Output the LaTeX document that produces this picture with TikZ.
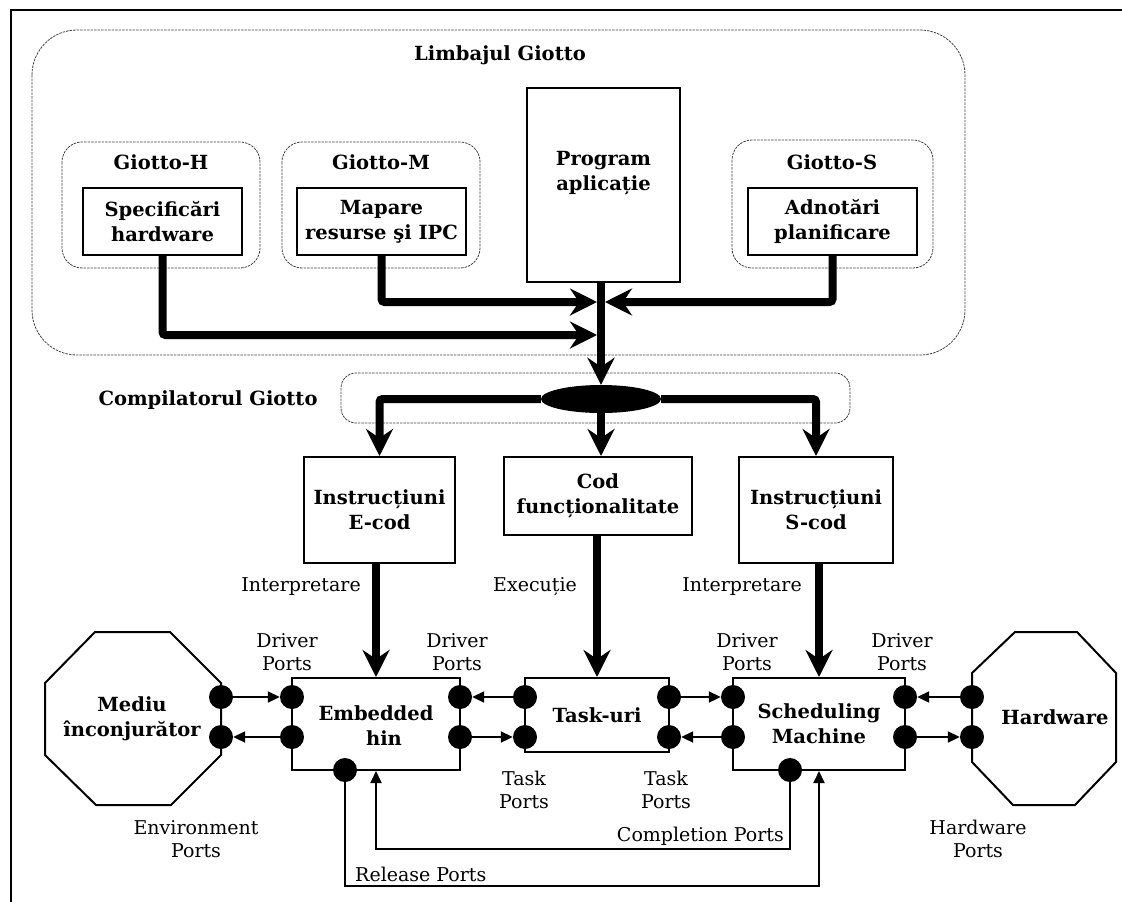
\documentclass[tikz,border=0pt]{standalone}
\usepackage{fontspec}
\setmainfont{DejaVu Serif}
\usetikzlibrary{arrows.meta,shapes.geometric,calc}

\begin{document}
\begin{tikzpicture}[x=1pt,y=-1pt,
  txt/.style={font=\fontsize{19}{23}\selectfont, align=center, inner sep=0pt},
  btxt/.style={font=\fontsize{19.5}{25}\selectfont\bfseries, align=center, inner sep=0pt},
  box/.style={draw, line width=2pt, inner sep=0pt,
              font=\fontsize{19.5}{25}\selectfont\bfseries, align=center},
  dashbox/.style={draw=black!75, line width=0.8pt, dash pattern=on 2.5pt off 1pt},
  port/.style={circle, fill=black, minimum size=24pt, inner sep=0pt},
  flow/.style={line width=8pt, rounded corners=3pt,
               -{Stealth[length=27pt,width=27pt,inset=9pt]}},
  link/.style={line width=2pt, -{Triangle[length=12pt,width=11pt]}},
  edge2/.style={line width=2pt},
]
\useasboundingbox (0,0) rectangle (1122,902);

% page frame (top and left rules)
\draw[line width=2pt] (11,902) -- (11,10) -- (1122,10);

% ---------------- language level ----------------
\draw[dashbox, rounded corners=45pt] (32,30) rectangle (965,355);
\node[btxt] (lang) at (500,55) {Limbajul Giotto};

\draw[dashbox, rounded corners=20pt] (62,142) rectangle (260,268);
\draw[dashbox, rounded corners=20pt] (282,142) rectangle (480,268);
\draw[dashbox, rounded corners=20pt] (732,140) rectangle (933,268);
\node[btxt] (gh) at (161,162) {Giotto-H};
\node[btxt] (gm) at (381,162) {Giotto-M};
\node[btxt] (gs) at (832,162) {Giotto-S};

\node[box, minimum width=159pt, minimum height=67pt] (spec) at (162.5,221.5) {Specificări\\hardware};
\node[box, minimum width=169pt, minimum height=67pt] (map) at (381.5,221.5) {Mapare\\resurse ş{}i IPC};
\node[box, minimum width=169pt, minimum height=67pt] (adn) at (832.5,221.5) {Adnotări\\planificare};
\node[box, minimum width=153pt, minimum height=194pt] (prog) at (603.5,185) {};
\node[btxt] (progtxt) at (603.5,173) {Program\\aplicație};

% ---------------- compiler ----------------
\draw[dashbox, rounded corners=15pt] (341,373) rectangle (850,423);
\node[btxt] (comp) at (208,400) {Compilatorul Giotto};
\node[ellipse, fill=black, minimum width=120pt, minimum height=28pt, inner sep=0pt] (oval) at (601,399) {};

\coordinate (jh) at (597,335);
\coordinate (jm) at (597,302);
\coordinate (js) at (605,302);

\draw[flow] (spec.south) |- (jh);
\draw[flow] (map.south) |- (jm);
\draw[flow] (adn.south) |- (js);
\draw[flow] (prog.south -| oval.north) -- (oval.north);

% ---------------- generated code ----------------
\node[box, minimum width=151pt, minimum height=106pt] (ecod) at (379.5,510) {Instrucțiuni\\E-cod};
\node[box, minimum width=188pt, minimum height=78pt] (cod) at (598,496) {Cod\\funcționalitate};
\node[box, minimum width=154pt, minimum height=106pt] (scod) at (816,510) {Instrucțiuni\\S-cod};

\draw[flow] (oval.west) -| (ecod.north);
\draw[flow] (oval.east) -| (scod.north);
\draw[flow] (oval.south) -- (oval.south |- cod.north);

% ---------------- run-time machines ----------------
\node[box, minimum width=168pt, minimum height=92pt] (emb) at (376,724) {};
\node[btxt] (embtxt) at (376,726) {Embedded\\\hspace*{16pt}hin};
\node[box, minimum width=144pt, minimum height=74pt] (task) at (597,715) {Task-uri};
\node[box, minimum width=172pt, minimum height=92pt] (sched) at (819,724) {Scheduling\\Machine};

\draw[flow] (ecod.south -| emb.north) -- (emb.north);
\draw[flow] (cod.south -| task.north) -- (task.north);
\draw[flow] (scod.south -| sched.north) -- (sched.north);

\node[txt] (int1) at (301,587) {Interpretare};
\node[txt] (exe) at (535,587) {Execuție};
\node[txt] (int2) at (742,587) {Interpretare};

% environment and hardware
\draw[edge2] (95,632) -- (170,632) -- (221,683) -- (221,755) -- (171,805) -- (96,805) -- (45,755) -- (45,683) -- cycle;
\node[btxt] (env) at (132,719) {Mediu\\înconjurător};
\draw[edge2] (1015,632) -- (1077,632) -- (1116,673) -- (1116,762) -- (1075,805) -- (1013,805) -- (972,762) -- (972,673) -- cycle;
\node[btxt] (hw) at (1055,717) {Hardware};

% ports
\node[port] (mp1) at (221,697) {};
\node[port] (mp2) at (221,737) {};
\node[port] (el1) at (292,697) {};
\node[port] (el2) at (292,737) {};
\node[port] (er1) at (460,697) {};
\node[port] (er2) at (460,737) {};
\node[port] (eb)  at (345,770) {};
\node[port] (tl1) at (525,697) {};
\node[port] (tl2) at (525,737) {};
\node[port] (tr1) at (669,697) {};
\node[port] (tr2) at (669,737) {};
\node[port] (sl1) at (733,697) {};
\node[port] (sl2) at (733,737) {};
\node[port] (sr1) at (905,697) {};
\node[port] (sr2) at (905,737) {};
\node[port] (sb)  at (790,770) {};
\node[port] (hp1) at (972,697) {};
\node[port] (hp2) at (972,737) {};

\draw[link] (mp1) -- (el1);
\draw[link] (el2) -- (mp2);
\draw[link] (tl1) -- (er1);
\draw[link] (er2) -- (tl2);
\draw[link] (tr1) -- (sl1);
\draw[link] (sl2) -- (tr2);
\draw[link] (hp1) -- (sr1);
\draw[link] (sr2) -- (hp2);

% completion and release paths
\draw[link] (sb.center) -- ++(0,79) -| (emb.south);
\draw[link] (eb.center) -- ++(0,116) -| (sched.south);

% port labels
\node[txt] (dp1) at (287,652) {Driver\\Ports};
\node[txt] (dp2) at (457,652) {Driver\\Ports};
\node[txt] (dp3) at (747,652) {Driver\\Ports};
\node[txt] (dp4) at (902,652) {Driver\\Ports};
\node[txt] (tp1) at (524,790) {Task\\Ports};
\node[txt] (tp2) at (666,790) {Task\\Ports};
\node[txt] (envp) at (196,839) {Environment\\Ports};
\node[txt] (hwp) at (978,839) {Hardware\\Ports};
\node[txt, anchor=east] (cp) at (784,836) {Completion Ports};
\node[txt, anchor=west] (rp) at (355,874) {Release Ports};
\end{tikzpicture}
\end{document}
